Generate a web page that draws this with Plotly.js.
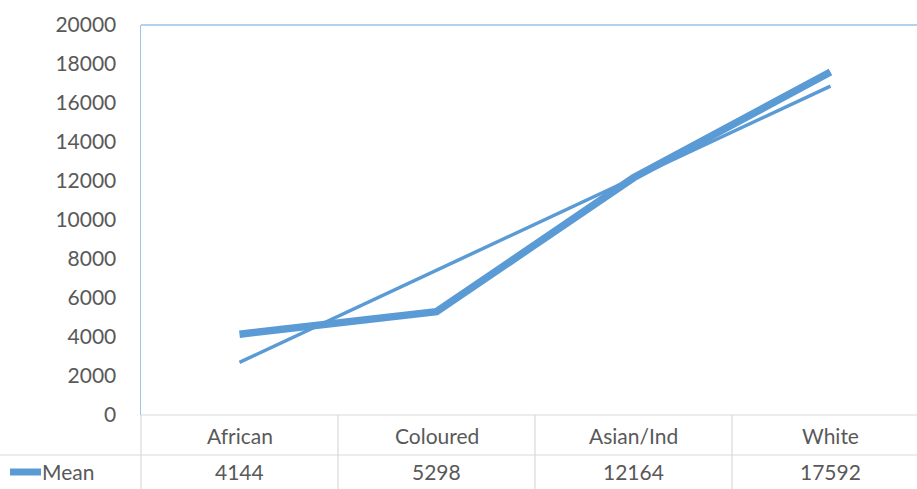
<!DOCTYPE html>
<html>
<head>
<meta charset="utf-8">
<script src="https://cdn.plot.ly/plotly-3.0.1.min.js"></script>
<style>html,body{margin:0;padding:0;background:#fff;}#chart{width:917px;height:489px;}</style>
</head>
<body>
<div id="chart"></div>
<script>
const categories = ["African", "Coloured", "Asian/Ind", "White"];
const meanValues = [4144, 5298, 12164, 17592];
const trendValues = [2700, 7420, 12140, 16870];
const seriesName = "Mean";
const yTicks = [0, 2000, 4000, 6000, 8000, 10000, 12000, 14000, 16000, 18000, 20000];

const W = 917, H = 489, L = 141, T = 25, B = 74;
const plotW = W - L, plotH = H - T - B;
const px2paperX = X => (X - L) / plotW;
const px2paperY = Y => (H - B - Y) / plotH;
const xIdx = categories.map((c, i) => i);
const blue = "#5B9BD5";
const grey = "#595959";
const gridGrey = "#D9D9D9";
const font = "Lato, 'Open Sans', sans-serif";
const fs = 21;

const traces = [
  {x: xIdx, y: trendValues, mode: "lines", line: {color: blue, width: 3.5}, hoverinfo: "skip", showlegend: false},
  {x: xIdx, y: meanValues, mode: "lines", name: seriesName, line: {color: blue, width: 7.5}, showlegend: false}
];

const shapes = [];
const annotations = [];
shapes.push({type: "line", xref: "paper", yref: "paper", x0: 0, x1: 1, y0: px2paperY(415), y1: px2paperY(415), line: {color: gridGrey, width: 1.2}});
shapes.push({type: "line", xref: "paper", yref: "paper", x0: px2paperX(0), x1: 1, y0: px2paperY(455), y1: px2paperY(455), line: {color: gridGrey, width: 1.2}});
shapes.push({type: "line", xref: "paper", yref: "paper", x0: 0, x1: 0, y0: px2paperY(415), y1: px2paperY(489), line: {color: gridGrey, width: 1.2}});
for (let i = 0; i < categories.length - 1; i++) {
  shapes.push({type: "line", xref: "x", yref: "paper", x0: i + 0.5, x1: i + 0.5, y0: px2paperY(415), y1: px2paperY(489), line: {color: gridGrey, width: 1.2}});
}
shapes.push({type: "line", xref: "paper", yref: "paper", x0: 0, x1: 1, y0: 1, y1: 1, line: {color: "#9DC3E6", width: 1.5}});
shapes.push({type: "line", xref: "paper", yref: "paper", x0: px2paperX(10), x1: px2paperX(41), y0: px2paperY(472), y1: px2paperY(472), line: {color: blue, width: 7}});

categories.forEach((c, i) => {
  annotations.push({x: i, xref: "x", y: px2paperY(435), yref: "paper", text: c, showarrow: false, font: {family: font, size: fs, color: grey}, xanchor: "center", yanchor: "middle"});
  annotations.push({x: i, xref: "x", y: px2paperY(472), yref: "paper", text: String(meanValues[i]), showarrow: false, font: {family: font, size: fs, color: grey}, xanchor: "center", yanchor: "middle"});
});
annotations.push({x: px2paperX(40), xref: "paper", y: px2paperY(472), yref: "paper", text: seriesName, showarrow: false, font: {family: font, size: fs, color: grey}, xanchor: "left", yanchor: "middle"});

const layout = {
  width: W, height: H,
  margin: {l: L, r: 0, t: T, b: B, pad: 0},
  paper_bgcolor: "#fff", plot_bgcolor: "#fff",
  showlegend: false,
  xaxis: {range: [-0.5, -0.5 + plotW / 197], showticklabels: false, showgrid: false, zeroline: false, showline: false, ticks: "", fixedrange: true},
  yaxis: {range: [0, 20000], tickvals: yTicks, ticktext: yTicks.map(String), showgrid: false, zeroline: false,
          showline: true, linecolor: "#9DC3E6", linewidth: 1.5, ticks: "", ticklabelstandoff: 19,
          tickfont: {family: font, size: fs, color: grey}},
  shapes: shapes,
  annotations: annotations
};
Plotly.newPlot("chart", traces, layout, {displayModeBar: false, staticPlot: true});
</script>
</body>
</html>
